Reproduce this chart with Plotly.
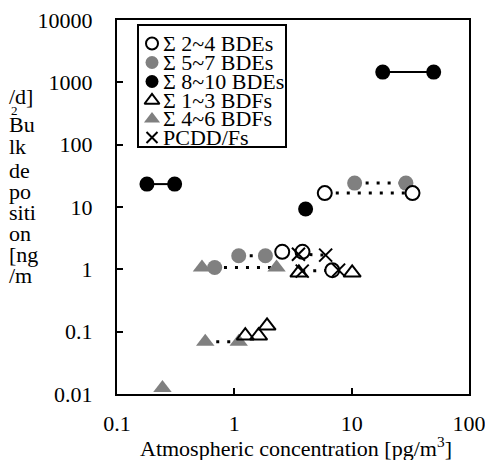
import plotly.graph_objects as go

# ---------------- data ----------------
bde24_x = [2.56, 3.81, 6.84, 5.9, 33.0]
bde24_y = [1.91, 1.91, 0.97, 16.7, 16.7]

bde57_x = [0.68, 1.09, 1.84, 10.6, 29.0]
bde57_y = [1.07, 1.65, 1.65, 24.2, 24.2]

bde810_x = [0.18, 0.31, 4.05, 18.4, 50.0]
bde810_y = [23.3, 23.3, 9.3, 1460.0, 1460.0]

bdf13_x = [1.24, 1.61, 1.90, 3.55, 10.1]
bdf13_y = [0.086, 0.086, 0.124, 0.88, 0.88]

bdf46_x = [0.244, 0.53, 0.565, 1.09, 2.29]
bdf46_y = [0.0125, 1.07, 0.069, 0.069, 1.07]

pcdd_x = [3.52, 6.0, 3.79, 7.74]
pcdd_y = [1.75, 1.69, 0.935, 0.97]

# connecting segments (index pairs into the arrays above)
solid_pairs_810 = [(0, 1), (3, 4)]
dotted_pairs_24 = [(3, 4)]
dotted_pairs_57 = [(1, 2), (3, 4)]
dotted_pairs_46 = [(1, 4), (2, 3)]
dotted_pairs_pcdd = [(0, 1), (2, 3)]

x_tickvals = [0.1, 1, 10, 100]
x_ticktext = ["0.1", "1", "10", "100"]
y_tickvals = [0.01, 0.1, 1, 10, 100, 1000, 10000]
y_ticktext = ["0.01", "0.1", "1", "10", "100", "1000", "10000"]

legend_names = ["Σ 2~4 BDEs", "Σ 5~7 BDEs", "Σ 8~10 BDEs",
                "Σ 1~3 BDFs", "Σ 4~6 BDFs", "PCDD/Fs"]

x_title = "Atmospheric concentration [pg/m<sup>3</sup>]"
y_title_pieces = ["/d]", "Bu", "lk", "de", "po", "siti", "on", "[ng", "/m"]

# ---------------- figure ----------------
GRAY = "#808080"
FONT = "Liberation Serif"
FS = 22

# plot area in pixels (for layout helpers only)
L, R, T, B = 117, 469, 20, 394
W_PA, H_PA = R - L, B - T


def px_x(p):
    return (p - L) / W_PA


def px_y(p):
    return (B - p) / H_PA


fig = go.Figure()


def add_segments(xs, ys, pairs, dash, width):
    for a, b in pairs:
        fig.add_trace(go.Scatter(
            x=[xs[a], xs[b]], y=[ys[a], ys[b]], mode="lines",
            line=dict(color="black", width=width, dash=dash),
            hoverinfo="skip", showlegend=False))


add_segments(bde810_x, bde810_y, solid_pairs_810, "solid", 2)
add_segments(bde24_x, bde24_y, dotted_pairs_24, "3px,8px", 3)
add_segments(bde57_x, bde57_y, dotted_pairs_57, "3px,8px", 3)
add_segments(bdf46_x, bdf46_y, dotted_pairs_46, "3px,8px", 3)
add_segments(pcdd_x, pcdd_y, dotted_pairs_pcdd, "3px,8px", 3)

series = [
    (bdf46_x, bdf46_y, dict(symbol="triangle-up", size=16, color=GRAY, line=dict(width=0))),
    (bdf13_x, bdf13_y, dict(symbol="triangle-up-open", size=15, color="black", line=dict(width=2))),
    (bde57_x, bde57_y, dict(symbol="circle", size=15, color=GRAY, line=dict(width=0))),
    (bde24_x, bde24_y, dict(symbol="circle", size=14, color="white", line=dict(width=2, color="black"))),
    (bde810_x, bde810_y, dict(symbol="circle", size=15, color="black", line=dict(width=0))),
    (pcdd_x, pcdd_y, dict(symbol="x-thin-open", size=13, color="black", line=dict(width=2, color="black"))),
]
for xs, ys, mk in series:
    fig.add_trace(go.Scatter(x=xs, y=ys, mode="markers", marker=mk,
                             showlegend=False, cliponaxis=False))

# ---------------- custom legend ----------------
leg_rows_px = [43.5, 62.5, 81.5, 100.5, 119, 137.5]
leg_marker_x_px = 152
leg_text_x_px = 162
leg_markers = [
    dict(symbol="circle", size=12, color="white", line=dict(width=2, color="black")),
    dict(symbol="circle", size=13, color=GRAY, line=dict(width=0)),
    dict(symbol="circle", size=13, color="black", line=dict(width=0)),
    dict(symbol="triangle-up-open", size=13, color="black", line=dict(width=2)),
    dict(symbol="triangle-up", size=14, color=GRAY, line=dict(width=0)),
    dict(symbol="x-thin-open", size=11, color="black", line=dict(width=2, color="black")),
]

fig.add_shape(type="rect", xref="paper", yref="paper",
              x0=px_x(138), x1=px_x(286), y0=px_y(147), y1=px_y(25),
              line=dict(color="black", width=2), fillcolor="white", layer="below")

for ry, mk in zip(leg_rows_px, leg_markers):
    fig.add_trace(go.Scatter(x=[px_x(leg_marker_x_px)], y=[px_y(ry)], mode="markers",
                             marker=mk, xaxis="x2", yaxis="y2",
                             showlegend=False, cliponaxis=False, hoverinfo="skip"))

for ry, name in zip(leg_rows_px, legend_names):
    fig.add_annotation(x=px_x(leg_text_x_px), y=px_y(ry), xref="paper", yref="paper",
                       text=name, showarrow=False, xanchor="left", yanchor="middle",
                       borderpad=0, font=dict(family=FONT, size=FS, color="black"))

# ---------------- axis titles ----------------
fig.add_annotation(x=px_x(296), y=px_y(447), xref="paper", yref="paper",
                   text=x_title, showarrow=False, xanchor="center", yanchor="middle",
                   font=dict(family=FONT, size=FS, color="black"))

y_piece_rows = [96, 124, 146, 170, 191, 212, 233, 254, 275]
for ry, txt in zip(y_piece_rows, y_title_pieces):
    fig.add_annotation(x=px_x(8), y=px_y(ry), xref="paper", yref="paper",
                       text=txt, showarrow=False, xanchor="left", yanchor="middle",
                       borderpad=0, font=dict(family=FONT, size=FS, color="black"))
fig.add_annotation(x=px_x(10), y=px_y(111), xref="paper", yref="paper",
                   text="2", showarrow=False, xanchor="left", yanchor="middle",
                   borderpad=0, font=dict(family=FONT, size=13, color="black"))

axis_common = dict(showgrid=False, zeroline=False, showline=True, linecolor="black",
                   linewidth=2, mirror=True, ticks="inside", ticklen=6, tickwidth=1.5,
                   tickcolor="black", automargin=False, ticklabeloverflow="allow",
                   tickfont=dict(family=FONT, size=FS, color="black"))

fig.update_layout(
    width=485, height=460,
    margin=dict(l=L, r=485 - R, t=T, b=460 - B, autoexpand=False),
    paper_bgcolor="white", plot_bgcolor="white",
    showlegend=False,
    font=dict(family=FONT, size=FS, color="black"),
    xaxis=dict(type="log", range=[-1, 2], tickvals=x_tickvals, ticktext=x_ticktext,
               ticklabelstandoff=9, **axis_common),
    yaxis=dict(type="log", range=[-2, 4], tickvals=y_tickvals, ticktext=y_ticktext,
               ticklabelstandoff=18, **axis_common),
    xaxis2=dict(overlaying="x", range=[0, 1], visible=False, fixedrange=True),
    yaxis2=dict(overlaying="y", range=[0, 1], visible=False, fixedrange=True),
)

fig.write_html("out.html", config={"displayModeBar": False},
               post_script="document.body.style.margin='0';document.body.style.overflow='hidden';")
